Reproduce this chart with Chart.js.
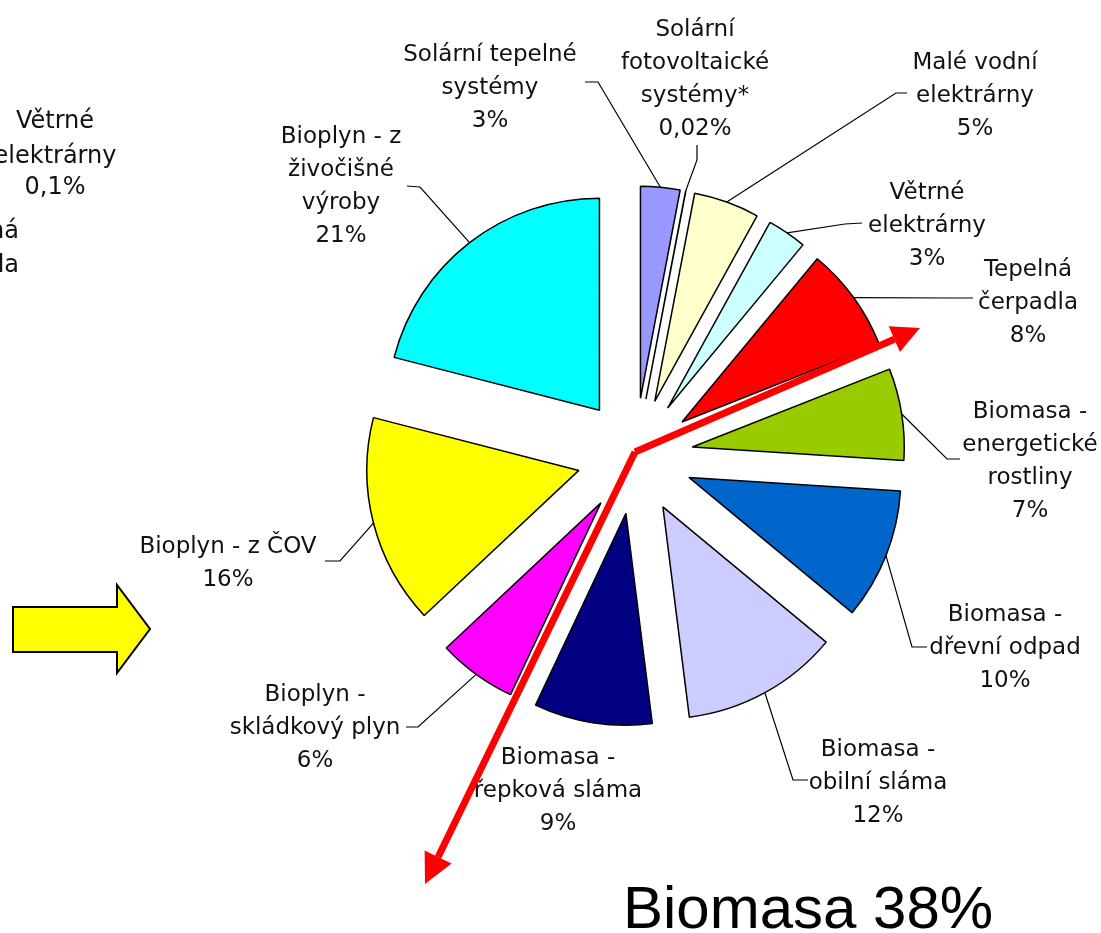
<!DOCTYPE html>
<html>
<head>
<meta charset="utf-8">
<title>Obnovitelné zdroje energie</title>
<script src="https://cdn.jsdelivr.net/npm/chart.js"></script>
<style>
  html, body { margin: 0; padding: 0; background: #fff; }
</style>
</head>
<body>
<canvas id="pie" width="1101" height="933"></canvas>
<script>
// slices, clockwise from 12 o'clock like the original Excel chart
const categories = [
  'Solární tepelné\nsystémy',
  'Solární\nfotovoltaické\nsystémy*',
  'Malé vodní\nelektrárny',
  'Větrné\nelektrárny',
  'Tepelná\nčerpadla',
  'Biomasa -\nenergetické\nrostliny',
  'Biomasa -\ndřevní odpad',
  'Biomasa -\nobilní sláma',
  'Biomasa -\nřepková sláma',
  'Bioplyn -\nskládkový plyn',
  'Bioplyn - z ČOV',
  'Bioplyn - z\nživočišné\nvýroby'
];
const shares = [3, 0.02, 5, 3, 8, 7, 10, 12, 9, 6, 16, 21];
const sliceColors = ['#9999ff', '#ffffff', '#ffffcc', '#ccffff', '#ff0000', '#99cc00',
                     '#0066cc', '#ccccff', '#000080', '#ff00ff', '#ffff00', '#00ffff'];

// where each label sits (centre x, first line y) and its leader line start + elbow
const labelAt = [[490, 55], [695, 30], [975, 63], [927, 193], [1028, 270], [1030, 412],
                 [1005, 615], [878, 750], [558, 758], [315, 695], [228, 547], [341, 137]];
const leaders = [[585, 82, 598, 82], [697, 145, 697, 160], [907, 93, 896, 93], [862, 223, 845, 224],
                 [973, 298, 953, 298], [960, 459, 947, 459], [927, 647, 912, 647], [808, 780, 793, 780],
                 null, [406, 727, 418, 727], [325, 561, 340, 561], [407, 186, 420, 187]];

const EXPLODE = 58;   // how far every slice is pulled out from the centre
const LINE = 33;
const pct = v => String(v).replace('.', ',') + '%';

// pull each slice out along its middle angle
const explode = {
  id: 'explode',
  afterDatasetUpdate(chart, args) {
    chart.getDatasetMeta(args.index).data.forEach(arc => {
      const mid = (arc.startAngle + arc.endAngle) / 2;
      arc.x += Math.cos(mid) * EXPLODE;
      arc.y += Math.sin(mid) * EXPLODE;
    });
  }
};

function arrow(ctx, x0, y0, x1, y1, w, headLen, headW) {
  const a = Math.atan2(y1 - y0, x1 - x0);
  const bx = x1 - Math.cos(a) * headLen, by = y1 - Math.sin(a) * headLen;
  ctx.lineWidth = w;
  ctx.beginPath(); ctx.moveTo(x0, y0); ctx.lineTo(bx, by); ctx.stroke();
  ctx.beginPath();
  ctx.moveTo(x1, y1);
  ctx.lineTo(bx + Math.sin(a) * headW, by - Math.cos(a) * headW);
  ctx.lineTo(bx - Math.sin(a) * headW, by + Math.cos(a) * headW);
  ctx.closePath(); ctx.fill();
}

const decorations = {
  id: 'decorations',
  afterDraw(chart) {
    const ctx = chart.ctx;
    const arcs = chart.getDatasetMeta(0).data;
    const cx = (chart.chartArea.left + chart.chartArea.right) / 2;
    const cy = (chart.chartArea.top + chart.chartArea.bottom) / 2;
    ctx.save();

    // leader lines
    ctx.strokeStyle = '#000';
    ctx.lineWidth = 1.2;
    arcs.forEach((arc, i) => {
      const l = leaders[i];
      if (!l) return;
      const mid = (arc.startAngle + arc.endAngle) / 2;
      ctx.beginPath();
      ctx.moveTo(l[0], l[1]);
      ctx.lineTo(l[2], l[3]);
      ctx.lineTo(arc.x + Math.cos(mid) * arc.outerRadius, arc.y + Math.sin(mid) * arc.outerRadius);
      ctx.stroke();
    });

    // data labels
    ctx.font = '23px "DejaVu Sans"';
    ctx.fillStyle = '#111';
    ctx.textAlign = 'center';
    ctx.textBaseline = 'middle';
    categories.forEach((name, i) => {
      name.split('\n').concat(pct(shares[i])).forEach((t, k) => {
        ctx.fillText(t, labelAt[i][0], labelAt[i][1] + k * LINE);
      });
    });

    // red arrows from the centre
    ctx.strokeStyle = '#ff0000';
    ctx.fillStyle = '#ff0000';
    arrow(ctx, cx, cy - 4, 920, 328, 7, 28, 14);
    arrow(ctx, cx, cy - 4, 425, 884, 7, 30, 15);

    // yellow block arrow
    ctx.beginPath();
    [[13, 607], [117, 607], [117, 585], [150, 629], [117, 673], [117, 652], [13, 652]]
      .forEach((p, k) => k ? ctx.lineTo(p[0], p[1]) : ctx.moveTo(p[0], p[1]));
    ctx.closePath();
    ctx.fillStyle = '#ffff00';
    ctx.fill();
    ctx.strokeStyle = '#000';
    ctx.lineWidth = 2;
    ctx.stroke();

    // cut-off remains of the neighbouring chart
    ctx.fillStyle = '#111';
    ctx.font = '24px "DejaVu Sans"';
    ctx.textAlign = 'center';
    ctx.fillText('Větrné', 55, 122);
    ctx.fillText('elektrárny', 55, 157);
    ctx.fillText('0,1%', 55, 188);
    ctx.textAlign = 'right';
    ctx.fillText('Tepelná', 19, 232);
    ctx.fillText('čerpadla', 19, 266);

    // summary
    ctx.fillStyle = '#000';
    ctx.font = '60px "Liberation Sans", Arial, sans-serif';
    ctx.textAlign = 'left';
    ctx.textBaseline = 'alphabetic';
    ctx.fillText('Biomasa 38%', 623, 928);
    ctx.restore();
  }
};

new Chart(document.getElementById('pie'), {
  type: 'pie',
  data: {
    labels: categories,
    datasets: [{
      data: shares,
      backgroundColor: sliceColors,
      borderColor: '#000',
      borderWidth: 1.5,
      radius: 212
    }]
  },
  options: {
    responsive: false,
    animation: false,
    events: [],
    layout: { padding: { left: 169, right: 0, top: 0, bottom: 21 } },
    plugins: { legend: { display: false }, tooltip: { enabled: false } }
  },
  plugins: [explode, decorations]
});
</script>
</body>
</html>
